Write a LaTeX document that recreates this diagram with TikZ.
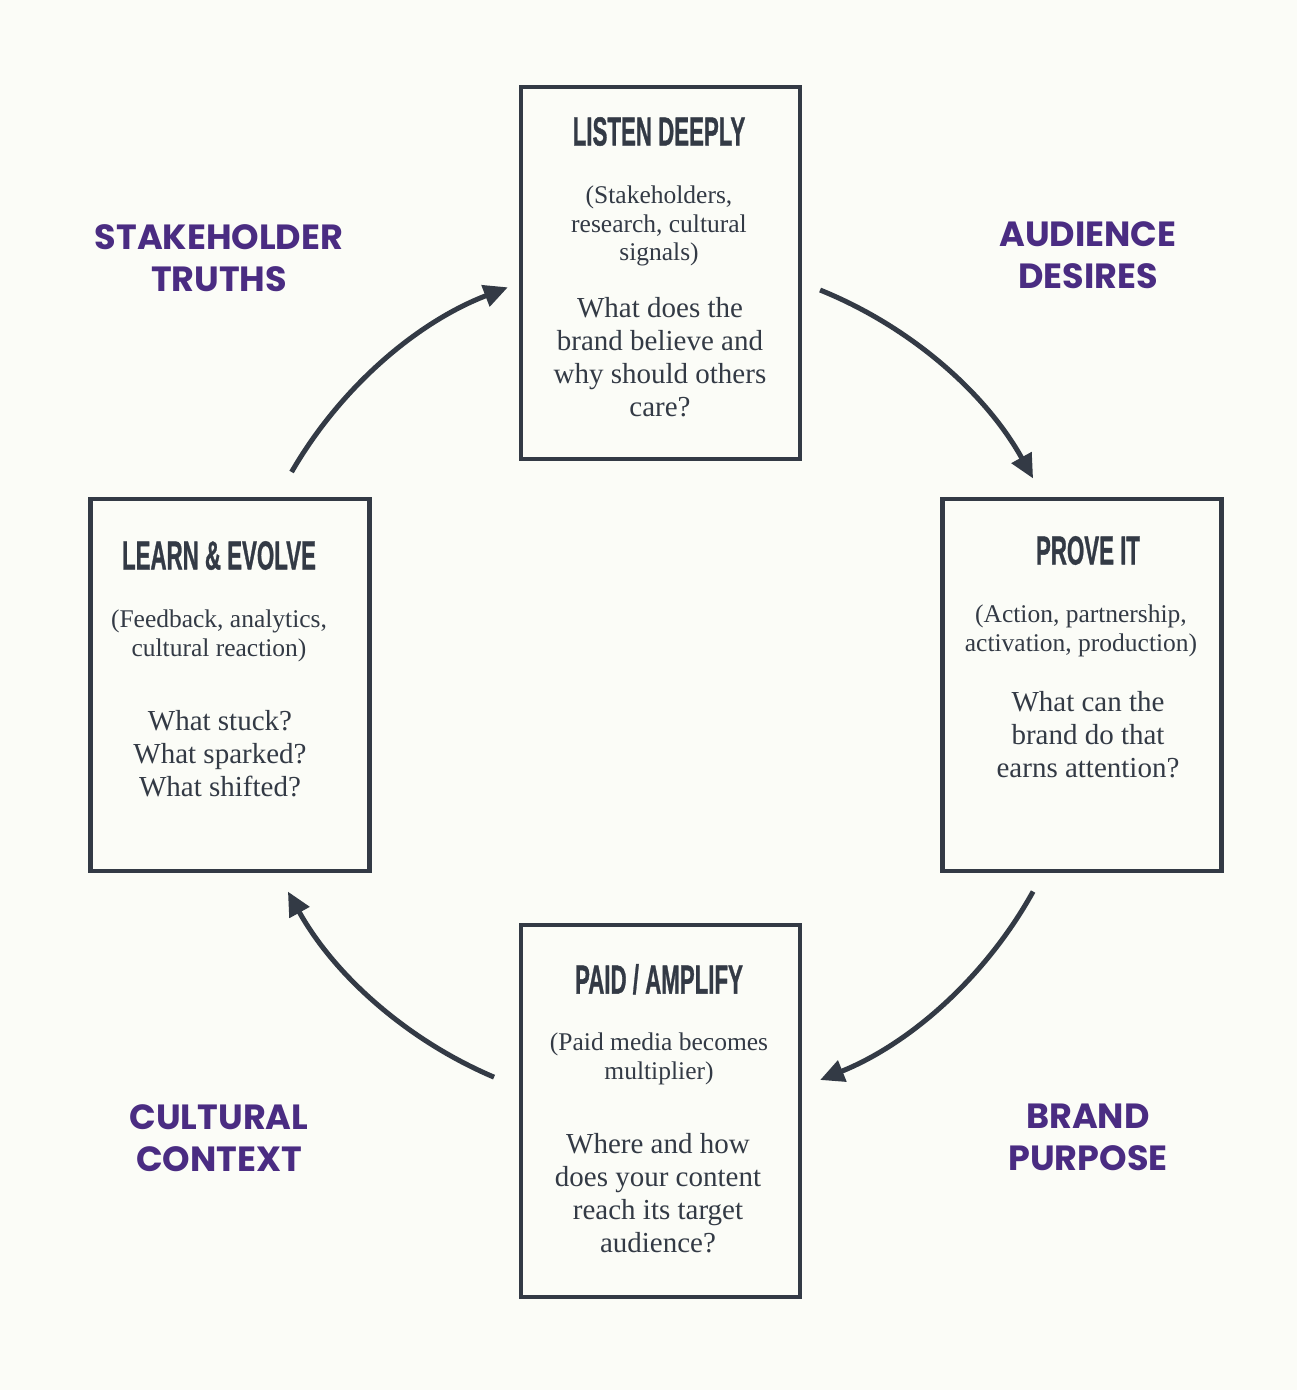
\documentclass[tikz,border=0pt]{standalone}
\usepackage{fontspec}
\usepackage{graphicx}
\usetikzlibrary{arrows.meta}
\setmainfont{Liberation Serif}
\newfontfamily\labelfont{Poppins}
\newfontfamily\ttlfont{Liberation Sans}[FakeBold=1.2]
\definecolor{bgc}{HTML}{FBFCF7}
\definecolor{ink}{HTML}{333A45}
\definecolor{purp}{HTML}{4A2C82}
\newcommand{\ttl}[1]{\scalebox{0.55}[1]{\ttlfont\bfseries\fontsize{40.5}{44}\selectfont #1}}
\tikzset{
  card/.style={draw=ink, line width=4.5pt, minimum width=279pt, minimum height=372pt, inner sep=0pt, fill=bgc},
  ttlnode/.style={anchor=north, inner sep=0pt, text=ink},
  parnode/.style={anchor=north, inner sep=0pt, text=ink, align=center, font=\fontsize{25.5}{28.5}\selectfont},
  qnode/.style={anchor=north, inner sep=0pt, text=ink, align=center, font=\fontsize{29}{33}\selectfont},
  lbl/.style={anchor=north, inner sep=0pt, text=purp, align=center, font=\labelfont\bfseries\fontsize{35}{42}\selectfont},
  cyc/.style={draw=ink, line width=5pt, -{Triangle[length=24pt,width=22pt]}}
}
\begin{document}
\begin{tikzpicture}[x=1pt,y=-1pt]
\fill[bgc] (0,0) rectangle (1297,1390);
\useasboundingbox (0,0) rectangle (1297,1390);
% boxes
\node[card] (top) at (660.5,273) {};
\node[card] (lft) at (230,685) {};
\node[card] (rgt) at (1082,685) {};
\node[card] (bot) at (660.5,1111) {};
% top box
\node[ttlnode] (t1) at (659,117) {\ttl{LISTEN DEEPLY}};
\node[parnode] (p1) at (659,186) {(Stakeholders,\\research, cultural\\signals)};
\node[qnode] (q1) at (660,297) {What does the\\brand believe and\\why should others\\care?};
% left box
\node[ttlnode] (t2) at (219,541) {\ttl{LEARN \& EVOLVE}};
\node[parnode] (p2) at (219,610) {(Feedback, analytics,\\cultural reaction)};
\node[qnode] (q2) at (220,710) {What stuck?\\What sparked?\\What shifted?};
% right box
\node[ttlnode] (t3) at (1088,536) {\ttl{PROVE IT}};
\node[parnode] (p3) at (1081,605) {(Action, partnership,\\activation, production)};
\node[qnode] (q3) at (1088,691) {What can the\\brand do that\\earns attention?};
% bottom box
\node[ttlnode] (t4) at (659,964) {\ttl{PAID / AMPLIFY}};
\node[parnode] (p4) at (659,1033) {(Paid media becomes\\multiplier)};
\node[qnode] (q4) at (658,1133) {Where and how\\does your content\\reach its target\\audience?};
% purple labels
\node[lbl] (l1) at (219,224) {STAKEHOLDER\\TRUTHS};
\node[lbl] (l2) at (1088,221) {AUDIENCE\\DESIRES};
\node[lbl] (l3) at (219,1104) {CULTURAL\\CONTEXT};
\node[lbl] (l4) at (1088,1104) {BRAND\\PURPOSE};
% cycle arrows
\coordinate (c) at (660.5,685);
\coordinate (a1) at ([shift={(-150:426)}]c);
\coordinate (a2) at ([shift={(-68:426)}]c);
\coordinate (a3) at ([shift={(29:426)}]c);
\coordinate (a4) at ([shift={(113:426)}]c);
\draw[cyc] (a1) arc[start angle=-150, end angle=-111, radius=426];
\draw[cyc] (a2) arc[start angle=-68, end angle=-29, radius=426];
\draw[cyc] (a3) arc[start angle=29, end angle=68, radius=426];
\draw[cyc] (a4) arc[start angle=113, end angle=151, radius=426];
\end{tikzpicture}
\end{document}
